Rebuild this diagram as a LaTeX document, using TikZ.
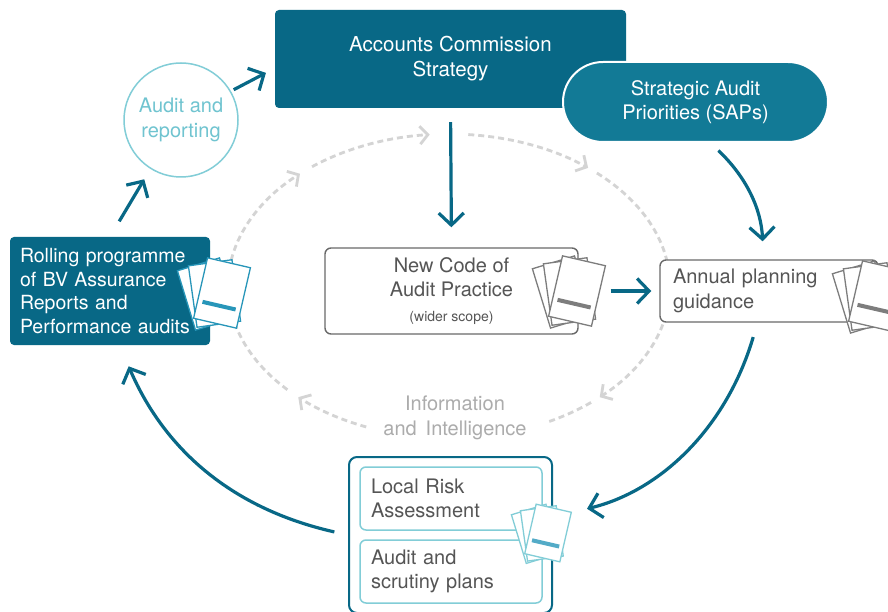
\documentclass[tikz,border=0pt]{standalone}
\usepackage{fontspec}
\setmainfont{TeX Gyre Heros}
\usetikzlibrary{arrows.meta,positioning}

\definecolor{deepteal}{RGB}{8,104,134}
\definecolor{midteal}{RGB}{18,122,150}
\definecolor{paleteal}{RGB}{130,205,215}
\definecolor{circteal}{RGB}{112,196,208}
\definecolor{pageteal}{RGB}{40,150,185}
\definecolor{boxgray}{RGB}{105,105,105}
\definecolor{pagegray}{RGB}{125,125,125}
\definecolor{txtgray}{RGB}{85,85,85}
\definecolor{loopgray}{RGB}{212,212,212}
\definecolor{infogray}{RGB}{172,172,172}

\begin{document}
\begin{tikzpicture}[x=1pt, y=-1pt,
    every node/.style={font=\fontsize{20}{24.5}\selectfont, inner sep=0pt},
    darkbox/.style={rectangle, rounded corners=4pt, fill=deepteal, text=white},
    whitebox/.style={rectangle, rounded corners=6pt, draw=boxgray, line width=1.4pt, fill=white, text=txtgray},
    palebox/.style={rectangle, rounded corners=6pt, draw=paleteal, line width=1.5pt, fill=white, text=txtgray},
    flow/.style={draw=deepteal, line width=3.2pt, -{Straight Barb[length=12pt, width=25pt]}},
    infoloop/.style={draw=loopgray, line width=2.8pt, dash pattern=on 6pt off 4pt, -{Straight Barb[length=8pt, width=18pt]}},
    pics/docs/.style 2 args={code={
      \foreach \dx/\dy/\r in {-14.5/1/17, -7.5/0.5/8}
        \draw[#1, fill=white, line width=1.3pt, shift={(\dx,\dy)}, rotate=\r] (-22,-31) rectangle (22,31);
      \begin{scope}[rotate=-13]
        \draw[#1, fill=white, line width=1.3pt] (-22,-31) rectangle (22,31);
        \draw[#2, line width=4pt] (-17,13) -- (17,13);
      \end{scope}
    }}
  ]
  \useasboundingbox (0,0) rectangle (888,612);
  \clip (0,0) rectangle (888,612);
  \fill[white] (0,0) rectangle (888,612);

  % dashed ring
  \coordinate (loop) at (449,286);
  \foreach \a/\b in {137/227.6, 231.7/265, 275/309, 312/407, 112/133}
    \draw[infoloop] (loop) ++(\a:221 and 152) arc[start angle=\a, end angle=\b, x radius=221, y radius=152];
  \draw[infoloop, -] (loop) ++(410:221 and 152) arc[start angle=410, end angle=424, x radius=221, y radius=152];
  \node[text=infogray, align=center] (info) at (455,418) {Information\\and\hspace{0.45em}Intelligence};

  % top row
  \node[darkbox, minimum width=351pt, minimum height=98pt, align=center, font=\fontsize{20.5}{25}\selectfont] (acs) at (450.5,59) {Accounts Commission\\Strategy};
  \node[rectangle, rounded corners=40pt, fill=midteal, draw=white, line width=2pt, text=white,
        minimum width=265pt, minimum height=80pt, align=center] (sap) at (695.5,102) {Strategic Audit\\Priorities (SAPs)};
  \node[circle, draw=paleteal, line width=1.5pt, fill=white, text=circteal, minimum size=114pt, align=center] (audrep) at (181,120) {Audit and\\reporting};

  % middle row
  \node[darkbox, minimum width=200pt, minimum height=108pt, text width=180pt, align=left, font=\fontsize{19.5}{23.7}\selectfont] (roll) at (110,291)
    {Rolling programme\\of BV Assurance\\Reports and\\Performance audits};
  \node[whitebox, minimum width=253pt, minimum height=86pt, align=center] (code) at (451.5,291)
    {New Code of\\Audit Practice\\{\fontsize{14}{17}\selectfont (wider scope)}};
  \node[whitebox, minimum width=218pt, minimum height=62pt, text width=192pt, align=left] (plan) at (769,291)
    {Annual planning\\guidance};

  % bottom group
  \node[rectangle, rounded corners=8pt, draw=deepteal, line width=2pt, fill=white, minimum width=203pt, minimum height=156pt] (grp) at (450.5,535) {};
  \node[palebox, minimum width=182pt, minimum height=63pt, text width=160pt, align=left] (risk) at (451,498.5) {Local Risk\\Assessment};
  \node[palebox, minimum width=182pt, minimum height=63pt, text width=160pt, align=left] (scrut) at (451,571.5) {Audit and\\scrutiny plans};

  % paper stacks
  \pic at (222,293) {docs={pageteal}{pageteal}};
  \pic at (577,291) {docs={pagegray}{pagegray}};
  \pic at (877,296) {docs={pagegray}{pagegray}};
  \pic[scale=0.82] at (548,533) {docs={paleteal}{pageteal!80}};

  % cycle arrows
  \draw[flow, shorten <=18pt, shorten >=12pt] (roll.north) -- (audrep.238);
  \draw[flow, shorten <=3pt, shorten >=10pt] (audrep.30) -- (acs.183);
  \draw[flow, shorten <=14pt, shorten >=20pt] (acs.south) -- (code.north);
  \draw[flow, shorten <=32pt, shorten >=8pt] (code.east) -- (plan.west);
  \draw[flow, shorten <=11pt, shorten >=18pt] (sap.290) to[bend left=22] (plan.100);
  \draw[flow, shorten <=15pt, shorten >=35pt] (plan.250) to[bend left=30] (grp.10);
  \draw[flow, shorten <=14pt, shorten >=23pt] (grp.west) to[bend left=27] (roll.280);
\end{tikzpicture}
\end{document}
